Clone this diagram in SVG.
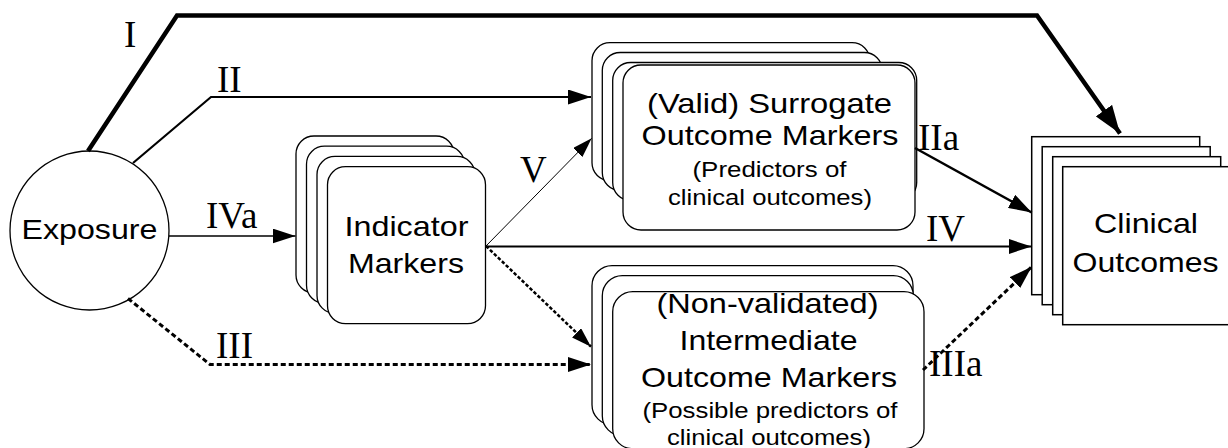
<svg xmlns="http://www.w3.org/2000/svg" width="1228" height="448" viewBox="0 0 1228 448">
<style>
.bx{fill:#fff;stroke:#000;stroke-width:1.3}
.sq{fill:#fff;stroke:#000;stroke-width:1.5}
.t{font-family:"Liberation Sans",Arial,sans-serif;font-size:28px;fill:#000;text-anchor:middle}
.s{font-family:"Liberation Sans",Arial,sans-serif;font-size:22px;fill:#000;text-anchor:middle}
.l{font-family:"Liberation Serif","Times New Roman",serif;font-size:37px;fill:#000}
.c{fill:none;stroke:#000}
</style>
<defs>
<marker id="ah" markerUnits="userSpaceOnUse" markerWidth="23" markerHeight="15" refX="23" refY="7.5" orient="auto" viewBox="0 0 23 15"><path d="M0,0 L23,7.5 L0,15 z" fill="#000"/></marker>
<marker id="ahs" markerUnits="userSpaceOnUse" markerWidth="20" markerHeight="13" refX="20" refY="6.5" orient="auto" viewBox="0 0 20 13"><path d="M0,0 L20,6.5 L0,13 z" fill="#000"/></marker>
<marker id="ahb" markerUnits="userSpaceOnUse" markerWidth="28" markerHeight="20" refX="28" refY="10" orient="auto" viewBox="0 0 28 20"><path d="M0,0 L28,10 L0,20 z" fill="#000"/></marker>
</defs>

<g id="exposure">
<circle cx="89.5" cy="230.5" r="79.5" class="bx"/>
<text x="89.5" y="238.5" class="t" textLength="136" lengthAdjust="spacingAndGlyphs">Exposure</text>
</g>

<g id="indicator">
<rect x="296" y="136" width="158" height="157" rx="18" class="bx"/>
<rect x="306.5" y="146.2" width="158" height="157" rx="18" class="bx"/>
<rect x="317" y="156.4" width="158" height="157" rx="18" class="bx"/>
<rect x="327.5" y="166.7" width="158" height="157" rx="18" class="bx"/>
<text x="406.5" y="236" class="t" textLength="124" lengthAdjust="spacingAndGlyphs">Indicator</text>
<text x="406" y="273.3" class="t" textLength="116" lengthAdjust="spacingAndGlyphs">Markers</text>
</g>

<g id="surrogate">
<rect x="592" y="42.7" width="278" height="138" rx="18" class="bx"/>
<rect x="602.3" y="52.5" width="280" height="138" rx="18" class="bx"/>
<rect x="612.7" y="62.5" width="304" height="138" rx="18" class="bx"/>
<rect x="623" y="65" width="292" height="165" rx="18" class="bx"/>
<text x="769.5" y="113" class="t" textLength="245" lengthAdjust="spacingAndGlyphs">(Valid) Surrogate</text>
<text x="770" y="145" class="t" textLength="257" lengthAdjust="spacingAndGlyphs">Outcome Markers</text>
<text x="769.5" y="176.7" class="s" textLength="154" lengthAdjust="spacingAndGlyphs">(Predictors of</text>
<text x="770" y="205" class="s" textLength="204" lengthAdjust="spacingAndGlyphs">clinical outcomes)</text>
</g>

<g id="intermediate">
<rect x="592" y="265.7" width="321" height="159" rx="20" class="bx"/>
<rect x="602.3" y="275.7" width="311" height="160" rx="20" class="bx"/>
<rect x="612.7" y="291.7" width="311.3" height="157" rx="20" class="bx"/>
<text x="767.5" y="313.3" class="t" textLength="222" lengthAdjust="spacingAndGlyphs">(Non-validated)</text>
<text x="768.5" y="350" class="t" textLength="178" lengthAdjust="spacingAndGlyphs">Intermediate</text>
<text x="769" y="386.7" class="t" textLength="256" lengthAdjust="spacingAndGlyphs">Outcome Markers</text>
<text x="770" y="418.3" class="s" textLength="255" lengthAdjust="spacingAndGlyphs">(Possible predictors of</text>
<text x="769" y="445" class="s" textLength="204" lengthAdjust="spacingAndGlyphs">clinical outcomes)</text>
</g>

<g id="clinical">
<rect x="1031.7" y="136.7" width="168" height="158" class="sq"/>
<rect x="1042.2" y="146.7" width="168" height="158" class="sq"/>
<rect x="1052.7" y="156.7" width="168" height="158" class="sq"/>
<rect x="1062.7" y="166.7" width="168" height="158" class="sq"/>
<text x="1146" y="233.3" class="t" textLength="104" lengthAdjust="spacingAndGlyphs">Clinical</text>
<text x="1145.5" y="271.7" class="t" textLength="146" lengthAdjust="spacingAndGlyphs">Outcomes</text>
</g>

<g id="connectors">
<path d="M88,151 L177,15.5 L1037,15.5 L1120,133.5" class="c" stroke-width="4.5" stroke-linejoin="miter" marker-end="url(#ahb)"/>
<path d="M133,163 L211,97 L591,97" class="c" stroke-width="2.2" marker-end="url(#ah)"/>
<path d="M169,236 L295.5,236" class="c" stroke-width="1.5" marker-end="url(#ah)"/>
<path d="M128,298.5 L210,364.5 L591,364.5" class="c" stroke-width="3" stroke-dasharray="5,3" marker-end="url(#ah)"/>
<path d="M486,246 L591.7,138.3" class="c" stroke-width="1" marker-end="url(#ahs)"/>
<path d="M486,246 L591,346.7" class="c" stroke-width="2.5" stroke-dasharray="3.5,2" marker-end="url(#ahs)"/>
<path d="M486,246.5 L1031.7,246.5" class="c" stroke-width="2" marker-end="url(#ah)"/>
<path d="M915,148 L1031.7,212.5" class="c" stroke-width="2.5" marker-end="url(#ah)"/>
<path d="M923,370 L1031.7,266.7" class="c" stroke-width="3" stroke-dasharray="5,3" marker-end="url(#ah)"/>
</g>

<g id="labels">
<text x="124" y="46.7" class="l">I</text>
<text x="217" y="91.7" class="l">II</text>
<text x="206" y="228" class="l">IVa</text>
<text x="216" y="358" class="l">III</text>
<text x="520" y="181.7" class="l">V</text>
<text x="918" y="150" class="l">IIa</text>
<text x="926" y="240.7" class="l">IV</text>
<text x="929" y="376" class="l">IIIa</text>
</g>
</svg>
